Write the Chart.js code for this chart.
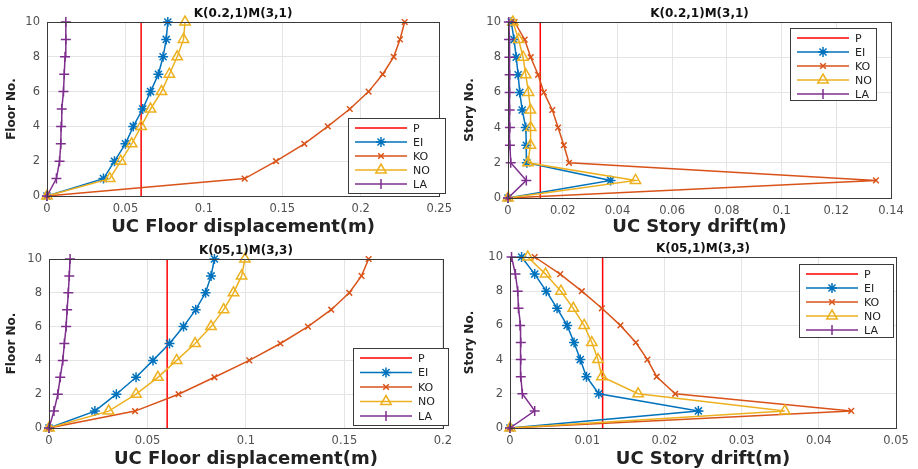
<!DOCTYPE html>
<html>
<head>
<meta charset="utf-8">
<script src="https://cdn.jsdelivr.net/npm/chart.js"></script>
<style>
  html, body { margin: 0; padding: 0; background: #fff; }
  body { width: 918px; height: 469px; position: relative; overflow: hidden; }
  canvas { position: absolute; }
</style>
</head>
<body>
<canvas id="c-disp-a" width="458" height="240" style="left:0;top:0"></canvas>
<canvas id="c-drift-a" width="460" height="240" style="left:458px;top:0"></canvas>
<canvas id="c-disp-b" width="458" height="237" style="left:0;top:232px"></canvas>
<canvas id="c-drift-b" width="460" height="237" style="left:458px;top:232px"></canvas>
<script>
// floors / stories on the y axis
const floors = [0, 1, 2, 3, 4, 5, 6, 7, 8, 9, 10];
const yTicks = [0, 2, 4, 6, 8, 10];
const seriesNames = ['P', 'EI', 'KO', 'NO', 'LA'];

// K(0.2,1)M(3,1) - floor displacement
const dispA_EI = [0, 0.036, 0.043, 0.050, 0.055, 0.061, 0.066, 0.071, 0.074, 0.076, 0.077];
const dispA_KO = [0, 0.126, 0.146, 0.164, 0.179, 0.193, 0.205, 0.214, 0.221, 0.225, 0.228];
const dispA_NO = [0, 0.040, 0.047, 0.054, 0.060, 0.066, 0.073, 0.078, 0.083, 0.087, 0.088];
const dispA_LA = [0, 0.006, 0.008, 0.0088, 0.009, 0.0094, 0.0105, 0.011, 0.0115, 0.012, 0.012];
const dispA_P = 0.06;
const dispA_xTicks = [0, 0.05, 0.1, 0.15, 0.2, 0.25];

// K(0.2,1)M(3,1) - story drift
const driftA_EI = [0, 0.0375, 0.0069, 0.0067, 0.0065, 0.0052, 0.0043, 0.0037, 0.003, 0.0022, 0.0012];
const driftA_KO = [0, 0.1345, 0.0223, 0.0204, 0.0183, 0.0162, 0.0131, 0.011, 0.0083, 0.0061, 0.0024];
const driftA_NO = [0, 0.0466, 0.0073, 0.0082, 0.0083, 0.0082, 0.0075, 0.0065, 0.0055, 0.0039, 0.0018];
const driftA_LA = [0, 0.0067, 0.001, 0.0007, 0.0007, 0.0006, 0.0006, 0.0006, 0.0005, 0.0004, 0.0003];
const driftA_P = 0.0118;
const driftA_xTicks = [0, 0.02, 0.04, 0.06, 0.08, 0.1, 0.12, 0.14];

// K(05,1)M(3,3) - floor displacement
const dispB_EI = [0, 0.0233, 0.0342, 0.0442, 0.0528, 0.0612, 0.0683, 0.0745, 0.0795, 0.0823, 0.084];
const dispB_KO = [0, 0.0437, 0.0658, 0.084, 0.1017, 0.1175, 0.1315, 0.1433, 0.1525, 0.1587, 0.1623];
const dispB_NO = [0, 0.0303, 0.0442, 0.0553, 0.0648, 0.0742, 0.0823, 0.0887, 0.0937, 0.0978, 0.0995];
const dispB_LA = [0, 0.0025, 0.0045, 0.0057, 0.007, 0.0078, 0.0087, 0.0092, 0.0098, 0.0103, 0.0107];
const dispB_P = 0.06;
const dispB_xTicks = [0, 0.05, 0.1, 0.15, 0.2];

// K(05,1)M(3,3) - story drift
const driftB_EI = [0, 0.0244, 0.0115, 0.0099, 0.0091, 0.0083, 0.0074, 0.0061, 0.0047, 0.0032, 0.0015];
const driftB_KO = [0, 0.0442, 0.0214, 0.019, 0.0178, 0.0163, 0.0143, 0.0119, 0.0093, 0.0065, 0.0032];
const driftB_NO = [0, 0.0356, 0.0166, 0.0119, 0.0114, 0.0106, 0.0096, 0.0082, 0.0066, 0.0046, 0.0023];
const driftB_LA = [0, 0.0032, 0.0016, 0.0014, 0.0014, 0.0014, 0.0013, 0.0011, 0.001, 0.0007, 0.0002];
const driftB_P = 0.012;
const driftB_xTicks = [0, 0.01, 0.02, 0.03, 0.04, 0.05];

const FONT = '"DejaVu Sans", "Liberation Sans", sans-serif';
const COLORS = { P: '#ff0000', EI: '#0072bd', KO: '#d95319', NO: '#edb120', LA: '#7e2f8e' };
const STYLES = {
    P:  { pointStyle: false, radius: 0 },
    EI: { pointStyle: 'star', radius: 5 },
    KO: { pointStyle: 'crossRot', radius: 4 },
    NO: { pointStyle: 'triangle', radius: 6 },
    LA: { pointStyle: 'cross', radius: 5 }
};

function pts(xs) { return xs.map((x, i) => ({ x: x, y: floors[i] })); }

function makeDatasets(ei, ko, no, la, p) {
    const values = {
        P: [{ x: p, y: floors[0] }, { x: p, y: floors[floors.length - 1] }],
        EI: pts(ei), KO: pts(ko), NO: pts(no), LA: pts(la)
    };
    return seriesNames.map((name, i) => ({
        label: name,
        data: values[name],
        showLine: true,
        clip: false,
        borderColor: COLORS[name],
        backgroundColor: 'rgba(0,0,0,0)',
        borderWidth: 1.5,
        pointStyle: STYLES[name].pointStyle,
        pointRadius: STYLES[name].radius,
        pointBorderWidth: 1.5,
        pointBorderColor: COLORS[name],
        order: seriesNames.length - i
    }));
}

// little marker drawer for the in-plot legend
function drawMarker(ctx, style, x, y, r) {
    ctx.beginPath();
    if (style === 'star') {
        for (let a = 0; a < 4; a++) {
            const t = a * Math.PI / 4;
            ctx.moveTo(x - r * Math.cos(t), y - r * Math.sin(t));
            ctx.lineTo(x + r * Math.cos(t), y + r * Math.sin(t));
        }
    } else if (style === 'crossRot') {
        ctx.moveTo(x - r * 0.7, y - r * 0.7); ctx.lineTo(x + r * 0.7, y + r * 0.7);
        ctx.moveTo(x + r * 0.7, y - r * 0.7); ctx.lineTo(x - r * 0.7, y + r * 0.7);
    } else if (style === 'triangle') {
        ctx.moveTo(x, y - r);
        ctx.lineTo(x + r * 0.87, y + r * 0.5);
        ctx.lineTo(x - r * 0.87, y + r * 0.5);
        ctx.closePath();
    } else if (style === 'cross') {
        ctx.moveTo(x, y - r); ctx.lineTo(x, y + r);
    }
    ctx.stroke();
}

// frame, title and legend box inside the plot
const framePlugin = {
    id: 'frame',
    afterDraw(chart, args, opts) {
        const ctx = chart.ctx;
        const a = chart.chartArea;
        ctx.save();
        ctx.strokeStyle = '#3a3a3a';
        ctx.lineWidth = 1;
        ctx.strokeRect(Math.round(a.left) + 0.5, Math.round(a.top) + 0.5,
                       Math.round(a.right - a.left), Math.round(a.bottom - a.top));

        ctx.fillStyle = '#111';
        ctx.font = 'bold 12px ' + FONT;
        ctx.textAlign = 'center';
        ctx.textBaseline = 'alphabetic';
        ctx.fillText(opts.title, (a.left + a.right) / 2, a.top - opts.titleGap);

        const L = opts.legend;
        ctx.fillStyle = '#fff';
        ctx.fillRect(L.x, L.y, L.w, L.h);
        ctx.strokeStyle = '#3a3a3a';
        ctx.strokeRect(L.x + 0.5, L.y + 0.5, L.w, L.h);
        ctx.font = '11px ' + FONT;
        ctx.textAlign = 'left';
        ctx.textBaseline = 'middle';
        seriesNames.forEach((name, i) => {
            const yy = L.y + 10 + i * L.row;
            ctx.strokeStyle = COLORS[name];
            ctx.lineWidth = 1.5;
            ctx.beginPath();
            ctx.moveTo(L.x + 7, yy);
            ctx.lineTo(L.x + 59, yy);
            ctx.stroke();
            if (STYLES[name].pointStyle) drawMarker(ctx, STYLES[name].pointStyle, L.x + 33, yy, STYLES[name].radius);
            ctx.fillStyle = '#222';
            ctx.fillText(name, L.x + 65, yy + 1);
        });
        ctx.restore();
    }
};

function buildPanel(id, cfg) {
    const canvas = document.getElementById(id);
    const W = canvas.width, H = canvas.height;
    const plot = cfg.plot;
    return new Chart(canvas, {
        type: 'scatter',
        data: { datasets: makeDatasets(cfg.ei, cfg.ko, cfg.no, cfg.la, cfg.p) },
        options: {
            responsive: false,
            animation: false,
            devicePixelRatio: 1,
            layout: { padding: { top: plot.top, right: W - plot.right, left: 0, bottom: 0 } },
            plugins: {
                legend: { display: false },
                tooltip: { enabled: false },
                frame: { title: cfg.title, titleGap: 5, legend: cfg.legend }
            },
            scales: {
                x: {
                    type: 'linear',
                    min: cfg.xTicks[0],
                    max: cfg.xTicks[cfg.xTicks.length - 1],
                    afterBuildTicks: s => { s.ticks = cfg.xTicks.map(v => ({ value: v })); },
                    afterFit: s => { s.height = H - plot.bottom; },
                    grid: { color: '#e4e4e4', drawTicks: false },
                    border: { display: false },
                    ticks: { padding: 6, color: '#505050', font: { family: FONT, size: 11.5 },
                             maxRotation: 0, callback: v => String(v) },
                    title: { display: true, text: cfg.xTitle, color: '#222',
                             font: { family: FONT, size: 18, weight: 'bold', lineHeight: 1 },
                             padding: { top: 0, bottom: cfg.xTitlePad } }
                },
                y: {
                    type: 'linear',
                    min: 0,
                    max: 10,
                    afterBuildTicks: s => { s.ticks = yTicks.map(v => ({ value: v })); },
                    afterFit: s => { s.width = plot.left; },
                    grid: { color: '#e4e4e4', drawTicks: false },
                    border: { display: false },
                    ticks: { padding: 7, color: '#505050', font: { family: FONT, size: 11.5 } },
                    title: { display: true, text: cfg.yTitle, color: '#222',
                             font: { family: FONT, size: 12, weight: 'bold' }, padding: { top: 5, bottom: 0 } }
                }
            }
        },
        plugins: [framePlugin]
    });
}

buildPanel('c-disp-a', {
    title: 'K(0.2,1)M(3,1)', xTitle: 'UC Floor displacement(m)', yTitle: 'Floor No.',
    ei: dispA_EI, ko: dispA_KO, no: dispA_NO, la: dispA_LA, p: dispA_P, xTicks: dispA_xTicks,
    plot: { left: 47, top: 22, right: 445, bottom: 196 }, xTitlePad: 4,
    legend: { x: 348, y: 118, w: 97, h: 75, row: 14 }
});
buildPanel('c-drift-a', {
    title: 'K(0.2,1)M(3,1)', xTitle: 'UC Story drift(m)', yTitle: 'Story No.',
    ei: driftA_EI, ko: driftA_KO, no: driftA_NO, la: driftA_LA, p: driftA_P, xTicks: driftA_xTicks,
    plot: { left: 50, top: 22, right: 433, bottom: 198 }, xTitlePad: 4,
    legend: { x: 332, y: 28, w: 86, h: 72, row: 14 }
});
buildPanel('c-disp-b', {
    title: 'K(05,1)M(3,3)', xTitle: 'UC Floor displacement(m)', yTitle: 'Floor No.',
    ei: dispB_EI, ko: dispB_KO, no: dispB_NO, la: dispB_LA, p: dispB_P, xTicks: dispB_xTicks,
    plot: { left: 49, top: 27, right: 449, bottom: 196 }, xTitlePad: 1,
    legend: { x: 353, y: 116, w: 95, h: 77, row: 14.5 }
});
buildPanel('c-drift-b', {
    title: 'K(05,1)M(3,3)', xTitle: 'UC Story drift(m)', yTitle: 'Story No.',
    ei: driftB_EI, ko: driftB_KO, no: driftB_NO, la: driftB_LA, p: driftB_P, xTicks: driftB_xTicks,
    plot: { left: 52, top: 25, right: 438, bottom: 196 }, xTitlePad: 1,
    legend: { x: 341, y: 32, w: 94, h: 73, row: 14 }
});
</script>
</body>
</html>
